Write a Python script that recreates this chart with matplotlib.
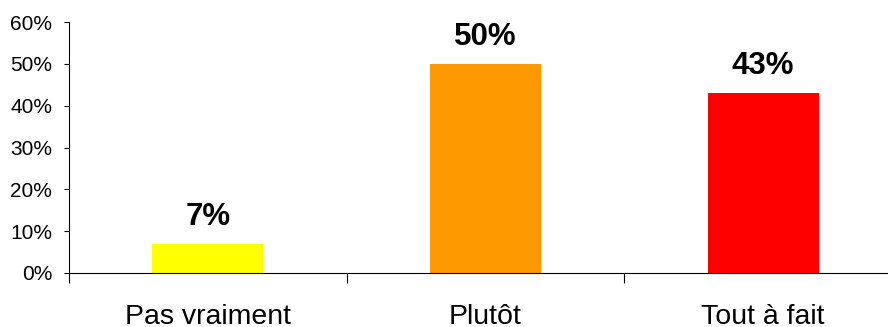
import numpy as np
import matplotlib.pyplot as plt
from matplotlib.ticker import FixedLocator, PercentFormatter

# --- Data ---
categories = ['Pas vraiment', 'Plutôt', 'Tout à fait']
values = [7, 50, 43]
colors = ['#FFFF00', '#FF9900', '#FF0000']

plt.rcParams['font.family'] = ['Liberation Sans', 'DejaVu Sans']

fig = plt.figure(figsize=(8.88, 3.27), dpi=100)
# right edge sits just past the picture, like the clipped original
ax = fig.add_axes([69/888, 54/327, 833/888, 251/327])

x = np.arange(len(categories))
ax.bar(x, values, width=0.4, color=colors)

for xi, v in zip(x, values):
    ax.text(xi, v + 4.5, f'{v}%', ha='center', va='baseline',
            fontsize=22.5, fontweight='bold')

ax.set_xlim(-0.5, len(categories) - 0.5)
ax.set_ylim(0, 60)
ax.set_yticks(np.arange(0, 61, 10))
ax.yaxis.set_major_formatter(PercentFormatter(decimals=0))

# category labels between boundary ticks
ax.set_xticks(x)
ax.set_xticklabels(categories, fontsize=20.5)
ax.tick_params(axis='x', which='major', length=0, pad=22)
ax.xaxis.set_minor_locator(FixedLocator(np.arange(-0.5, len(categories), 1)))
ax.tick_params(axis='x', which='minor', length=7, width=0.8, direction='out')

ax.tick_params(axis='y', length=3.6, width=0.8, labelsize=15, pad=8.4)

for s in ['top', 'right']:
    ax.spines[s].set_visible(False)
for s in ['left', 'bottom']:
    ax.spines[s].set_linewidth(0.8)

fig.savefig('out.png', dpi=100)
